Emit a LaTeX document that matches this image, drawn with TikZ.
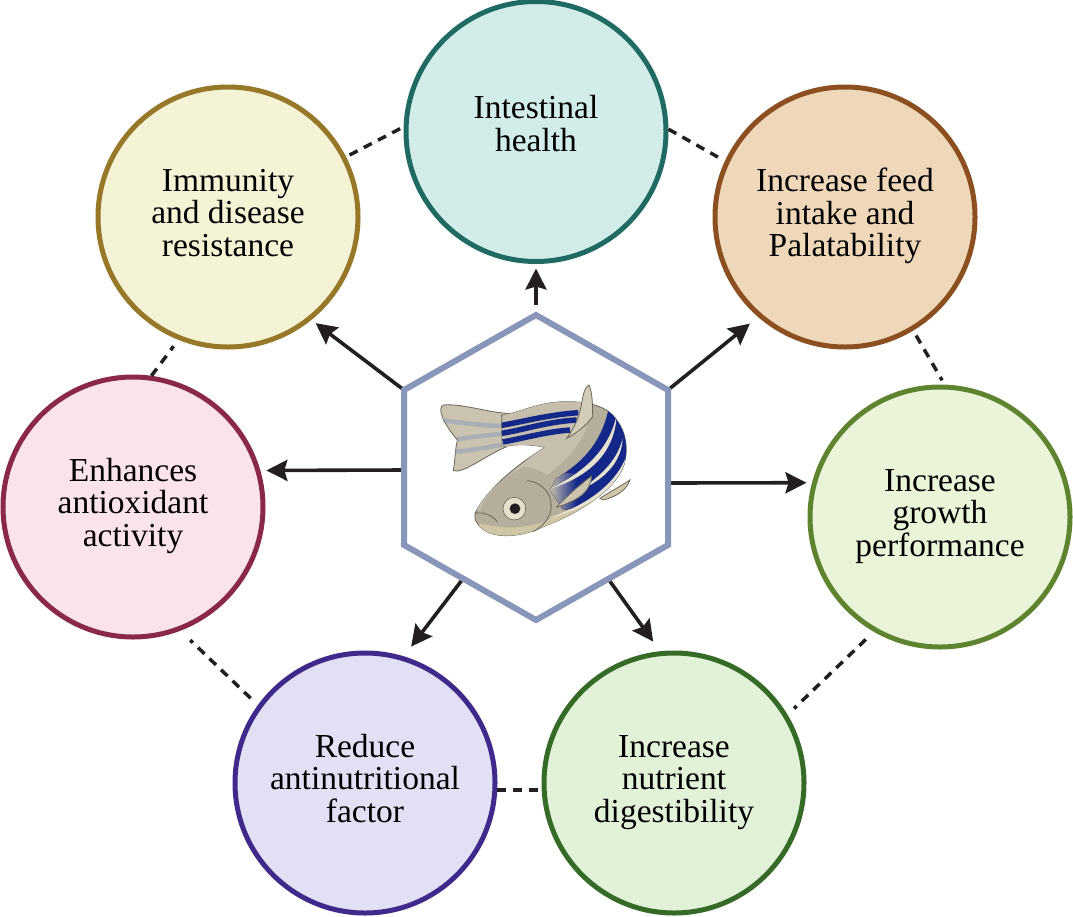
\documentclass[tikz,border=0pt]{standalone}
\usepackage{fontspec}
\setmainfont{Liberation Serif}
\usetikzlibrary{arrows.meta}
\definecolor{arrowc}{HTML}{231F20}
\definecolor{hexc}{HTML}{8896BA}
\definecolor{finc}{HTML}{C9C3B0}
\definecolor{bodyc}{HTML}{B5AE9C}
\definecolor{bodyl}{HTML}{C6BFAD}
\definecolor{bellyc}{HTML}{CFC6A6}
\definecolor{outl}{HTML}{6B6659}
\definecolor{stripe}{HTML}{14288A}
\definecolor{lstripe}{HTML}{E6E0CE}
\definecolor{gutD}{HTML}{1F6B63}\definecolor{gutF}{HTML}{D2EDE9}
\definecolor{immD}{HTML}{967828}\definecolor{immF}{HTML}{F4F3D6}
\definecolor{feedD}{HTML}{8C4F20}\definecolor{feedF}{HTML}{EFD8B9}
\definecolor{oxiD}{HTML}{8A2848}\definecolor{oxiF}{HTML}{FAE3EA}
\definecolor{groD}{HTML}{5F8430}\definecolor{groF}{HTML}{EAF4D8}
\definecolor{antD}{HTML}{3F2A8C}\definecolor{antF}{HTML}{E3E0F5}
\definecolor{nutD}{HTML}{356B26}\definecolor{nutF}{HTML}{E1F2D9}
\newcommand{\topgap}{\rule{0pt}{23pt}}
\newcommand{\botgap}{\rule[-9.5pt]{0pt}{9.5pt}}
\newcommand{\botgapb}{\rule[-16pt]{0pt}{16pt}}
\tikzset{
  x=1pt,y=-1pt,
  topic/.style={circle,line width=5pt,minimum size=260pt,inner sep=0pt,align=center,
    font=\fontsize{33.5}{32.5}\selectfont,text=black},
  link/.style={draw=arrowc,line width=3.5pt,dash pattern=on 9pt off 7pt},
  spoke/.style={draw=arrowc,line width=3.6pt,-{Stealth[length=21pt,width=21pt,inset=3pt]}},
  hexline/.style={draw=hexc,line width=6pt,line join=miter,fill=white},
  fishline/.style={draw=outl,line width=0.8pt}
}
\begin{document}
\begin{tikzpicture}
\useasboundingbox (0,0) rectangle (1073,916);
% hexagon corners and spoke origins
\coordinate (hT) at (536,315);
\coordinate (hUL) at (404,390);
\coordinate (hLL) at (404,545);
\coordinate (hB) at (536,620);
\coordinate (hLR) at (668,545);
\coordinate (hUR) at (668,390);
\coordinate (hTop) at (536,305);
\coordinate (hL) at (404,470);
\coordinate (hR) at (668,483);
\coordinate (hBL) at (462,580);
\coordinate (hBR) at (609,580);
% circles
\node[topic,draw=gutD,fill=gutF] (gut) at (536,131.5) {\topgap Intestinal\\health\botgapb};
\node[topic,draw=immD,fill=immF] (imm) at (228,217) {\topgap Immunity\\and disease\\resistance\botgap};
\node[topic,draw=feedD,fill=feedF] (feed) at (845,217) {\topgap Increase feed\\intake and\\Palatability\botgap};
\node[topic,draw=oxiD,fill=oxiF] (oxi) at (133,507) {\topgap Enhances\\antioxidant\\activity\botgap};
\node[topic,draw=groD,fill=groF] (gro) at (940,517) {\topgap Increase\\growth\\performance\botgap};
\node[topic,draw=antD,fill=antF] (ant) at (365,783) {\topgap Reduce\\antinutritional\\factor\botgap};
\node[topic,draw=nutD,fill=nutF] (nut) at (674,783) {\topgap Increase\\nutrient\\digestibility\botgap};
% spokes
\draw[spoke,shorten >=4.5pt] (hTop) -- (gut.south);
\draw[spoke,shorten >=5.3pt] (hUL) -- (imm.-51.1);
\draw[spoke,shorten >=10.5pt] (hUR) -- (feed.-131.2);
\draw[spoke,shorten >=6pt] (hL) -- (oxi.16.3);
\draw[spoke,shorten >=5.5pt] (hR) -- (gro.165.1);
\draw[spoke,shorten >=12.2pt] (hBL) -- (ant.73);
\draw[spoke,shorten >=11.9pt] (hBR) -- (nut.96.1);
% dashed links between neighbours
\draw[link,shorten <=4pt] (imm.27.5) -- (gut.178);
\draw[link,shorten >=8pt] (gut.1.5) -- (feed.155.1);
\draw[link,shorten <=5.7pt,shorten >=5pt] (feed.-59) -- (gro.88);
\draw[link,shorten <=11pt,shorten >=9pt] (gro.-120.7) -- (nut.31.1);
\draw[link] (ant.-3.5) -- (nut.west |- ant.-3.5);
\draw[link,shorten <=10pt,shorten >=13.6pt] (ant.144.2) -- (oxi.-69);
\draw[link,shorten >=8pt] (oxi.82.4) -- (imm.-112.2);
% hexagon
\draw[hexline] (hT) -- (hUR) -- (hLR) -- (hB) -- (hLL) -- (hUL) -- cycle;
% fish
\begin{scope}[shift={(400,350)},x=0.3333pt,y=-0.3333pt]
  % anal fin
  \draw[fishline,fill=bellyc] (600,445) .. controls (630,425) and (660,410) .. (690,390) .. controls (680,420) and (650,440) .. (610,450) -- cycle;
  % tail
  \draw[fishline,fill=finc] (330,190) .. controls (270,190) and (190,160) .. (130,165) .. controls (110,175) and (130,220) .. (172,270) .. controls (165,300) and (165,335) .. (160,362) .. controls (190,372) and (250,320) .. (320,290) -- cycle;
  \draw[line width=4.5pt,color=hexc,opacity=.45] (305,228) .. controls (250,228) and (190,218) .. (130,212);
  \draw[line width=4.5pt,color=hexc,opacity=.45] (305,252) .. controls (260,255) and (210,262) .. (172,268);
  \draw[line width=4.5pt,color=hexc,opacity=.45] (320,282) .. controls (270,290) and (210,302) .. (165,305);
  % body
  \path[fishline,fill=bodyc] (305,195) .. controls (360,190) and (410,155) .. (500,155) .. controls (560,155) and (620,165) .. (650,210) .. controls (680,250) and (685,300) .. (672,345) .. controls (650,410) and (560,480) .. (430,530) .. controls (370,560) and (300,565) .. (260,545) .. controls (235,530) and (220,510) .. (225,490) .. controls (250,440) and (310,370) .. (435,292) .. controls (400,285) and (360,280) .. (305,290) -- cycle;
  \begin{scope}
    \clip (305,195) .. controls (360,190) and (410,155) .. (500,155) .. controls (560,155) and (620,165) .. (650,210) .. controls (680,250) and (685,300) .. (672,345) .. controls (650,410) and (560,480) .. (430,530) .. controls (370,560) and (300,565) .. (260,545) .. controls (235,530) and (220,510) .. (225,490) .. controls (250,440) and (310,370) .. (435,292) .. controls (400,285) and (360,280) .. (305,290) -- cycle;
    % lighter top of the body
    \fill[bodyl] (310,190) -- (360,150) -- (560,150) .. controls (590,230) and (520,320) .. (440,375) .. controls (420,360) and (390,350) .. (370,350) .. controls (300,390) and (260,430) .. (240,480) -- (200,480) -- (430,290) -- (300,290) -- cycle;
    % belly
    \fill[bellyc] (240,520) .. controls (330,545) and (420,530) .. (470,495) .. controls (560,465) and (640,400) .. (690,300) -- (700,600) -- (200,600) -- cycle;
    % blue flank, fading towards the gill
    \begin{scope}
      \clip (470,385) .. controls (540,340) and (600,290) .. (625,180) -- (690,230) -- (690,350) .. controls (640,420) and (560,470) .. (490,480) -- (450,420) -- cycle;
      \fill[stripe] (440,170) rectangle (700,500);
      \fill[left color=bodyl,right color=stripe] (450,370) rectangle (530,490);
    \end{scope}
    % pale stripes over the flank
    \fill[lstripe] (455,415) .. controls (540,370) and (625,310) .. (650,195) .. controls (645,320) and (550,385) .. cycle;
    \fill[lstripe] (540,420) .. controls (590,385) and (650,340) .. (668,265) .. controls (665,345) and (600,395) .. cycle;
    \fill[lstripe] (440,505) .. controls (540,475) and (650,410) .. (682,310) .. controls (675,410) and (550,485) .. cycle;
    % upper body stripes
    \draw[stripe,line width=5.5pt] (305,226) .. controls (370,215) and (440,195) .. (535,188);
    \draw[stripe,line width=5.5pt] (305,250) .. controls (370,240) and (440,215) .. (530,210);
    \draw[stripe,line width=5.5pt] (308,276) .. controls (370,265) and (440,245) .. (510,240);
  \end{scope}
  % dorsal fin
  \draw[fishline,fill=finc!70!lstripe] (545,160) .. controls (550,130) and (555,110) .. (567,105) .. controls (578,130) and (578,170) .. (578,200) .. controls (560,225) and (530,250) .. (500,265) .. controls (530,225) and (540,190) .. (545,160) -- cycle;
  % pectoral fin
  \draw[fishline,fill=finc] (470,470) .. controls (510,430) and (545,400) .. (575,378) .. controls (570,420) and (550,445) .. (470,472) -- cycle;
  % gill
  \draw[fishline] (380,392) .. controls (430,395) and (465,440) .. (450,490) .. controls (440,520) and (415,535) .. (400,545);
  % mouth
  \draw[fishline] (225,490) .. controls (250,485) and (275,495) .. (292,515);
  % eye
  \fill[lstripe] (343,476) circle (34);
  \draw[outl,line width=.6pt] (343,476) circle (34);
  \fill[arrowc] (345,476) circle (16);
\end{scope}
\end{tikzpicture}
\end{document}
